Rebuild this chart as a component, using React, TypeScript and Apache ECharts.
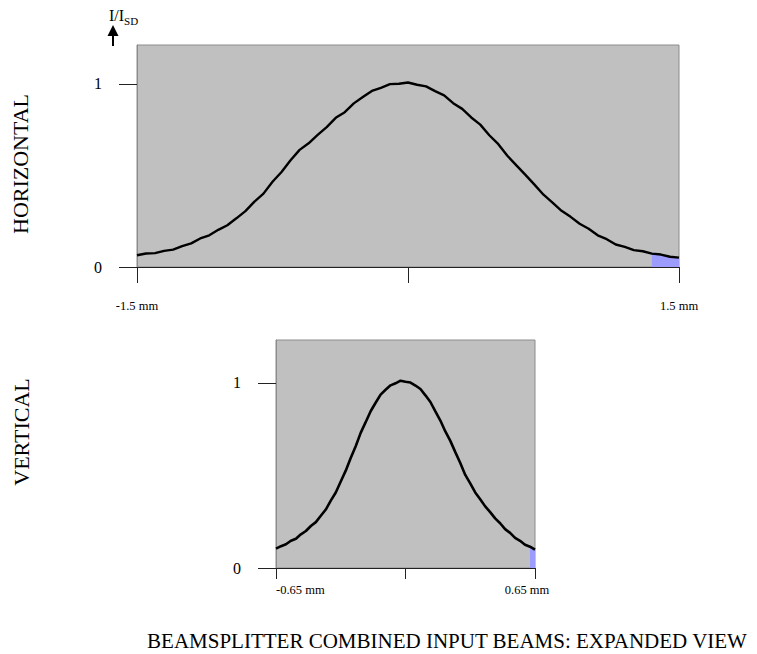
import React, { useEffect, useRef } from 'react';
import * as echarts from 'echarts';

// Horizontal profile: position (mm) and normalised intensity I/I_SD
const topX = [
  -1.5, -1.45, -1.4, -1.35, -1.3, -1.25, -1.2, -1.15, -1.1, -1.05,
  -1.0, -0.95, -0.9, -0.85, -0.8, -0.75, -0.7, -0.65, -0.6, -0.55,
  -0.5, -0.45, -0.4, -0.35, -0.3, -0.25, -0.2, -0.15, -0.1, -0.05,
  0.0, 0.05, 0.1, 0.15, 0.2, 0.25, 0.3, 0.35, 0.4, 0.45,
  0.5, 0.55, 0.6, 0.65, 0.7, 0.75, 0.8, 0.85, 0.9, 0.95,
  1.0, 1.05, 1.1, 1.15, 1.2, 1.25, 1.3, 1.35, 1.4, 1.45, 1.5,
];
const topY = [
  0.064, 0.074, 0.076, 0.088, 0.095, 0.114, 0.129, 0.156, 0.173, 0.203,
  0.228, 0.266, 0.305, 0.357, 0.401, 0.466, 0.519, 0.583, 0.64, 0.676,
  0.722, 0.764, 0.815, 0.846, 0.894, 0.929, 0.962, 0.979, 0.999, 1.001,
  1.008, 0.996, 0.987, 0.961, 0.938, 0.895, 0.864, 0.817, 0.778, 0.72,
  0.671, 0.608, 0.555, 0.503, 0.45, 0.395, 0.352, 0.307, 0.274, 0.236,
  0.209, 0.173, 0.152, 0.123, 0.11, 0.092, 0.086, 0.073, 0.068, 0.056, 0.051,
];

// Vertical profile
const bottomX = [
  -0.65, -0.625, -0.6, -0.575, -0.55, -0.525, -0.5, -0.475, -0.45, -0.425,
  -0.4, -0.375, -0.35, -0.325, -0.3, -0.275, -0.25, -0.225, -0.2, -0.175,
  -0.15, -0.125, -0.1, -0.075, -0.05, -0.025, 0.0, 0.025, 0.05, 0.075,
  0.1, 0.125, 0.15, 0.175, 0.2, 0.225, 0.25, 0.275, 0.3, 0.325,
  0.35, 0.375, 0.4, 0.425, 0.45, 0.475, 0.5, 0.525, 0.55, 0.575,
  0.6, 0.625, 0.65,
];
const bottomY = [
  0.105, 0.118, 0.128, 0.147, 0.158, 0.182, 0.2, 0.227, 0.248, 0.282,
  0.316, 0.364, 0.408, 0.467, 0.526, 0.594, 0.658, 0.73, 0.788, 0.847,
  0.893, 0.937, 0.963, 0.987, 0.998, 1.012, 1.006, 1.002, 0.986, 0.967,
  0.933, 0.897, 0.846, 0.797, 0.738, 0.687, 0.626, 0.567, 0.503, 0.457,
  0.408, 0.372, 0.333, 0.302, 0.268, 0.242, 0.21, 0.19, 0.163, 0.147,
  0.126, 0.115, 0.099,
];

const topTickValues = [-1.5, 0, 1.5];
const topLabelValues = [-1.5, 1.5];
const bottomTickValues = [-0.65, 0, 0.65];
const bottomLabelValues = [-0.65, 0.65];
const yTickValues = [0, 1];
const topShadeFrom = 1.35;
const bottomShadeFrom = 0.625;

const FONT = '"Liberation Serif", "Times New Roman", Times, serif';

export default function App() {
  const ref = useRef<HTMLDivElement>(null);

  useEffect(() => {
    if (!ref.current) return;
    const chart = echarts.init(ref.current, null, { renderer: 'svg' });

    const topData = topX.map((x, i) => [x, topY[i]]);
    const bottomData = bottomX.map((x, i) => [x, bottomY[i]]);
    const topShade = topData.filter((d) => d[0] >= topShadeFrom);
    const bottomShade = bottomData.filter((d) => d[0] >= bottomShadeFrom);

    const xAxisBase = (gridIndex: number, min: number, max: number, ticks: number[], labels: number[], tickLen: number, margin: number) => ({
      gridIndex,
      type: 'value',
      min,
      max,
      axisLine: { show: true, onZero: false, lineStyle: { color: '#222', width: 1 } },
      axisTick: { show: true, length: tickLen, customValues: ticks, lineStyle: { color: '#222', width: 1 } },
      axisLabel: {
        customValues: labels,
        margin,
        fontFamily: FONT,
        fontSize: 12.5,
        color: '#000',
      },
      splitLine: { show: false },
    });

    const yAxisBase = (gridIndex: number, max: number, tickLen: number) => ({
      gridIndex,
      type: 'value',
      min: 0,
      max,
      axisLine: { show: true, onZero: false, lineStyle: { color: '#8c8c8c', width: 1 } },
      axisTick: { show: true, length: tickLen, customValues: yTickValues, lineStyle: { color: '#222', width: 1 } },
      axisLabel: {
        customValues: yTickValues,
        margin: 35,
        fontFamily: FONT,
        fontSize: 16,
        color: '#000',
      },
      splitLine: { show: false },
    });

    const topXAxis: any = xAxisBase(0, -1.5, 1.5, topTickValues, topLabelValues, 16, 32);
    topXAxis.axisLabel.formatter = (v: number) => `${v} mm`;

    const bottomXAxis: any = xAxisBase(1, -0.65, 0.65, bottomTickValues, bottomLabelValues, 11, 15);
    bottomXAxis.axisLabel.formatter = (v: number) => (v > 0 ? `{r|${v} mm}` : `${v} mm`);
    bottomXAxis.axisLabel.alignMinLabel = 'left';
    bottomXAxis.axisLabel.rich = {
      r: { fontFamily: FONT, fontSize: 12.5, color: '#000', padding: [0, 16, 0, 0] },
    };

    chart.setOption({
      animation: false,
      backgroundColor: '#fff',
      grid: [
        { left: 137, top: 45, width: 542, height: 222, show: true, backgroundColor: '#c0c0c0', borderColor: '#8c8c8c', borderWidth: 1 },
        { left: 276, top: 340, width: 259, height: 228, show: true, backgroundColor: '#c0c0c0', borderColor: '#8c8c8c', borderWidth: 1 },
      ],
      xAxis: [topXAxis, bottomXAxis],
      yAxis: [yAxisBase(0, 1.213, 18), yAxisBase(1, 1.232, 18)],
      series: [
        {
          type: 'line', xAxisIndex: 0, yAxisIndex: 0, data: topShade, showSymbol: false, silent: true, z: 1,
          lineStyle: { width: 0 }, areaStyle: { color: '#9c9cff', opacity: 1 },
        },
        {
          type: 'line', xAxisIndex: 0, yAxisIndex: 0, data: topData, showSymbol: false, silent: true, z: 2,
          lineStyle: { color: '#000', width: 2.4 },
        },
        {
          type: 'line', xAxisIndex: 1, yAxisIndex: 1, data: bottomShade, showSymbol: false, silent: true, z: 1,
          lineStyle: { width: 0 }, areaStyle: { color: '#9c9cff', opacity: 1 },
        },
        {
          type: 'line', xAxisIndex: 1, yAxisIndex: 1, data: bottomData, showSymbol: false, silent: true, z: 2,
          lineStyle: { color: '#000', width: 2.6 },
        },
      ],
      graphic: [
        {
          type: 'text', x: 109, y: 5,
          style: {
            text: '{a|I/I}{b|SD}',
            rich: {
              a: { fontFamily: FONT, fontSize: 16, fill: '#000' },
              b: { fontFamily: FONT, fontSize: 11, fill: '#000', padding: [10, 0, 0, 0] },
            },
          },
        },
        { type: 'line', shape: { x1: 113, y1: 34, x2: 113, y2: 46 }, style: { stroke: '#000', lineWidth: 2 } },
        { type: 'polygon', shape: { points: [[113, 25], [107.5, 36], [118.5, 36]] }, style: { fill: '#000' } },
        {
          type: 'text', x: 20, y: 164, rotation: Math.PI / 2,
          style: { text: 'HORIZONTAL', fontFamily: FONT, fontSize: 22, fill: '#000', align: 'center', verticalAlign: 'middle' },
        },
        {
          type: 'text', x: 21, y: 432, rotation: Math.PI / 2,
          style: { text: 'VERTICAL', fontFamily: FONT, fontSize: 22, fill: '#000', align: 'center', verticalAlign: 'middle' },
        },
        {
          type: 'text', x: 447, y: 641,
          style: {
            text: 'BEAMSPLITTER COMBINED INPUT BEAMS: EXPANDED VIEW',
            fontFamily: FONT, fontSize: 21, fill: '#000', align: 'center', verticalAlign: 'middle',
          },
        },
      ],
    });

    return () => chart.dispose();
  }, []);

  return <div ref={ref} style={{ position: 'fixed', left: 0, top: 0, width: 757, height: 654 }} />;
}
